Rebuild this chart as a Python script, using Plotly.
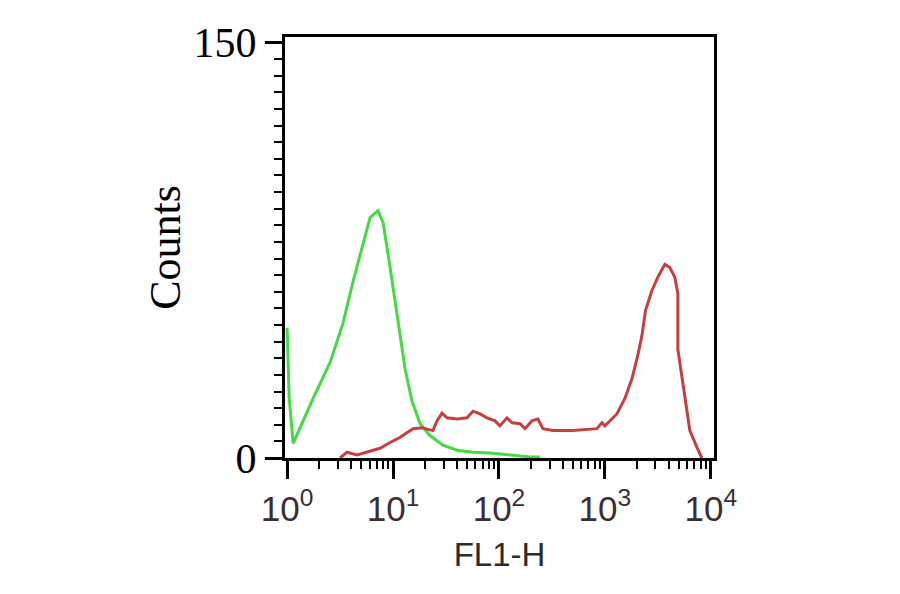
import plotly.graph_objects as go

# FL1-H channel position and counts
green_fl1 = [1.0, 1.045, 1.14, 1.76, 2.55, 3.37, 4.2, 5.45, 6.07, 7.21, 8.05, 9.38,
             10.9, 13.0, 15.1, 18.0, 22.3, 29.6, 40.2, 56.9, 82.2, 119, 196, 244]
green_counts = [47, 22, 5.3, 21.5, 34.6, 48.7, 63.9, 80.5, 86.8, 89.3, 85, 68.8,
                51.2, 32.1, 20.5, 12.4, 8.1, 4.6, 2.8, 2.1, 1.8, 1.1, 0.4, 0.4]

red_fl1 = [3.16, 3.68, 4.57, 5.69, 7.53, 9.38, 11.6, 13.6, 15.5, 18.8, 23.8, 26.0,
           29.0, 32.3, 40.2, 49.9, 56.9, 66.2, 77.1, 91.6, 102, 119, 133, 158,
           176, 205, 233, 260, 323, 499, 841, 938, 1000, 1297, 1545, 1799, 2046,
           2234, 2421, 2773, 3162, 3681, 4102, 4571, 4887, 4887, 5689, 6339,
           7379, 8222]
red_counts = [0, 2.1, 1.1, 2.1, 3.5, 5.6, 7.4, 9.2, 10.6, 10.9, 9.9, 13.4,
              16.2, 14.5, 14.1, 14.5, 16.9, 15.9, 14.5, 13.4, 11.6, 14.5, 12.7, 12.4,
              10.6, 13.4, 14.1, 10.6, 9.9, 9.9, 10.6, 12.7, 11.6, 15.9, 21.5, 28.6,
              37.1, 44.1, 53.3, 60.4, 65.3, 69.9, 68.8, 65.3, 59.3, 39.2, 22.9,
              9.9, 3.9, 0]

x_ticks = [1, 10, 100, 1000, 10000]
x_ticktext = ["10<sup>0</sup>", "10<sup>1</sup>", "10<sup>2</sup>",
              "10<sup>3</sup>", "10<sup>4</sup>"]
x_minor = [m * d for d in (1, 10, 100, 1000) for m in range(2, 10)]
y_ticks = [0, 30, 60, 90, 120, 150]
y_ticktext = ["0", "", "", "", "", "150"]
y_minor = list(range(0, 151, 6))

fig = go.Figure()
fig.add_trace(go.Scatter(x=green_fl1, y=green_counts, mode="lines",
                         line=dict(color="#44da44", width=3)))
fig.add_trace(go.Scatter(x=red_fl1, y=red_counts, mode="lines",
                         line=dict(color="#c44040", width=3)))

# page body has an 8px margin, so margins are shifted by that
fig.update_layout(
    width=900, height=594,
    margin=dict(l=277, r=194, t=19, b=144),
    plot_bgcolor="white", paper_bgcolor="white",
    showlegend=False,
    xaxis=dict(
        type="log", range=[-0.02, 4.03],
        tickvals=x_ticks, ticktext=x_ticktext,
        ticks="outside", ticklen=18, tickwidth=3, tickcolor="black",
        minor=dict(tickvals=x_minor, ticks="outside", ticklen=8,
                   tickwidth=2, tickcolor="black"),
        showline=True, linecolor="black", linewidth=3, mirror=True,
        showgrid=False, zeroline=False,
        tickfont=dict(family="Liberation Sans, Arial", size=35, color="#3b2d33"),
        title=dict(text="FL1-H", standoff=16,
                   font=dict(family="Liberation Sans, Arial", size=33, color="#2b2b2b")),
    ),
    yaxis=dict(
        range=[0, 152],
        tickvals=y_ticks, ticktext=y_ticktext,
        ticks="outside", ticklen=17, tickwidth=3, tickcolor="black",
        minor=dict(tickvals=y_minor, ticks="outside", ticklen=8,
                   tickwidth=2, tickcolor="black"),
        showline=True, linecolor="black", linewidth=3, mirror=True,
        showgrid=False, zeroline=False,
        tickfont=dict(family="Liberation Serif, Times New Roman, serif",
                      size=42, color="black"),
        title=dict(text="Counts", standoff=0,
                   font=dict(family="Liberation Serif, Times New Roman, serif",
                             size=44, color="black")),
    ),
)

fig.write_html("out.html")
